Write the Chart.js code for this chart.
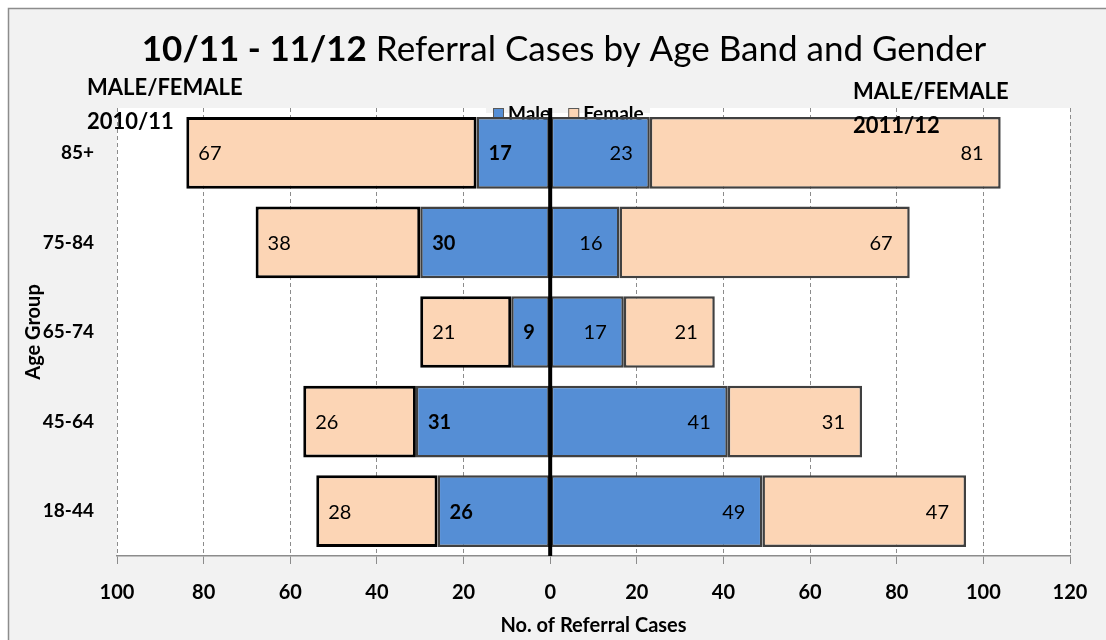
<!DOCTYPE html>
<html><head><meta charset="utf-8">
<script src="https://cdn.jsdelivr.net/npm/chart.js@4.4.0/dist/chart.umd.min.js"></script>
<style>html,body{margin:0;padding:0;background:#fff;}#wrap{width:1106px;height:640px;}</style>
</head><body><div id="wrap"><canvas id="c" width="1106" height="640"></canvas></div>
<script>
// ---- data ----
const categories = ['85+', '75-84', '65-74', '45-64', '18-44'];
const male1011 = [17, 30, 9, 31, 26];
const female1011 = [67, 38, 21, 26, 28];
const male1112 = [23, 16, 17, 41, 49];
const female1112 = [81, 67, 21, 31, 47];
const seriesNames = ['Male', 'Female'];
const titleBold = '10/11 - 11/12';
const titleRest = ' Referral Cases by Age Band and Gender';
const leftNote = ['MALE/FEMALE', '2010/11'];
const rightNote = ['MALE/FEMALE', '2011/12'];
const xTitle = 'No. of Referral Cases';
const yTitle = 'Age Group';

const BLUE = '#558ed5', PEACH = '#fcd5b5';
const FONT = 'Lato, "Open Sans", sans-serif';

const decor = {
  id: 'decor',
  beforeDraw(chart) {
    const {ctx, chartArea: a} = chart;
    ctx.save();
    ctx.fillStyle = '#ffffff'; ctx.fillRect(0, 0, chart.width, chart.height);
    ctx.fillStyle = '#f2f2f2'; ctx.fillRect(8, 8, chart.width, chart.height);
    ctx.strokeStyle = '#8c8c8c'; ctx.lineWidth = 1.5;
    ctx.beginPath(); ctx.moveTo(8.5, chart.height); ctx.lineTo(8.5, 8.5); ctx.lineTo(chart.width, 8.5); ctx.stroke();
    ctx.fillStyle = '#ffffff'; ctx.fillRect(a.left, a.top, a.right - a.left, a.bottom - a.top);
    // title
    ctx.fillStyle = '#000'; ctx.textBaseline = 'middle';
    ctx.font = 'bold 35px ' + FONT;
    const w1 = ctx.measureText(titleBold).width;
    ctx.font = '35px ' + FONT;
    const w2 = ctx.measureText(titleRest).width;
    const cx = 564, x0 = cx - (w1 + w2) / 2;
    ctx.textAlign = 'left';
    ctx.font = 'bold 35px ' + FONT; ctx.fillText(titleBold, x0, 50);
    ctx.font = '35px ' + FONT; ctx.fillText(titleRest, x0 + w1, 50);
    ctx.restore();
  },
  beforeDatasetsDraw(chart) {
    const {ctx} = chart;
    ctx.save();
    ctx.fillStyle = '#f2f2f2'; ctx.fillRect(486, 100, 164, 13);
    ctx.font = 'bold 19px ' + FONT; ctx.textBaseline = 'middle'; ctx.textAlign = 'left';
    let x = 493;
    seriesNames.forEach((n, i) => {
      const ds = chart.data.datasets[i];
      ctx.fillStyle = ds.backgroundColor; ctx.fillRect(x, 108, 11, 11);
      ctx.strokeStyle = '#595959'; ctx.lineWidth = 1; ctx.strokeRect(x + 0.5, 108.5, 10, 10);
      ctx.fillStyle = '#000'; ctx.fillText(n, x + 15, 114);
      x += 15 + ctx.measureText(n).width + 18;
    });
    ctx.restore();
  },
  afterDatasetsDraw(chart) {
    const {ctx, chartArea: a, scales} = chart;
    ctx.save();
    ctx.textBaseline = 'middle';
    chart.data.datasets.forEach((ds, di) => {
      const meta = chart.getDatasetMeta(di);
      meta.data.forEach((bar, j) => {
        const v = Math.abs(ds.data[j]);
        ctx.fillStyle = '#000';
        ctx.font = (di === 2 ? 'bold ' : '') + '20px ' + FONT;
        if (ds.data[j] < 0) { ctx.textAlign = 'left'; ctx.fillText(String(v), bar.x + 12, bar.y + 1); }
        else { ctx.textAlign = 'right'; ctx.fillText(String(v), bar.x - 17, bar.y + 1); }
      });
    });
    // zero line
    const z = scales.x.getPixelForValue(0);
    ctx.strokeStyle = '#000'; ctx.lineWidth = 4;
    ctx.beginPath(); ctx.moveTo(z, a.top); ctx.lineTo(z, a.bottom); ctx.stroke();
    // notes
    ctx.font = 'bold 22px ' + FONT; ctx.textAlign = 'left'; ctx.fillStyle = '#000';
    ctx.fillText(leftNote[0], 87, 88); ctx.fillText(leftNote[1], 87, 122);
    ctx.fillText(rightNote[0], 853, 92); ctx.fillText(rightNote[1], 853, 126);
    ctx.restore();
  }
};

const chart = new Chart(document.getElementById('c'), {
  type: 'bar',
  data: {
    labels: categories,
    datasets: [
      {label: seriesNames[0], data: male1112, backgroundColor: BLUE, borderColor: '#404040', borderWidth: 2.5, borderSkipped: false, stack: 's'},
      {label: seriesNames[1], data: female1112, backgroundColor: PEACH, borderColor: '#404040', borderWidth: 2.5, borderSkipped: false, stack: 's'},
      {label: seriesNames[0], data: male1011.map(v => -v), backgroundColor: BLUE, borderColor: '#404040', borderWidth: 2.5, borderSkipped: false, stack: 's'},
      {label: seriesNames[1], data: female1011.map(v => -v), backgroundColor: PEACH, borderColor: '#000000', borderWidth: 3, borderSkipped: false, stack: 's'}
    ]
  },
  options: {
    indexAxis: 'y',
    responsive: false, animation: false, devicePixelRatio: 1,
    layout: {padding: {top: 108, right: 36, left: 0, bottom: 0}},
    categoryPercentage: 0.8, barPercentage: 1.0,
    plugins: {legend: {display: false}, tooltip: {enabled: false}, title: {display: false}},
    scales: {
      x: {
        type: 'linear', stacked: true, min: -100, max: 120,
        ticks: {stepSize: 20, callback: v => Math.abs(v), color: '#000', font: {family: FONT, size: 20, weight: 'bold'}, padding: 17},
        grid: {color: '#8c8c8c', lineWidth: 1, tickColor: '#8c8c8c', tickLength: 8, tickBorderDash: []},
        border: {display: true, color: '#8c8c8c', width: 1.5, dash: [4, 3]},
        title: {display: true, text: xTitle, color: '#000', font: {family: FONT, size: 20, weight: 'bold'}, padding: {bottom: 2}},
        afterFit: s => { s.height = 84; }
      },
      y: {
        stacked: true,
        ticks: {color: '#000', font: {family: FONT, size: 19, weight: 'bold'}, padding: 23},
        grid: {display: false, drawTicks: false},
        border: {display: false},
        title: {display: true, text: yTitle, color: '#000', font: {family: FONT, size: 20, weight: 'bold'}, padding: {top: 22}},
        afterFit: s => { s.width = 117; }
      }
    }
  },
  plugins: [decor]
});
</script></body></html>
